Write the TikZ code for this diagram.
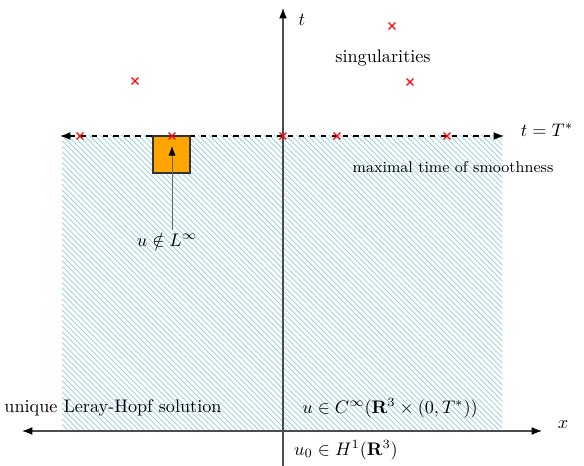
\documentclass[tikz,border=0pt]{standalone}
\usetikzlibrary{patterns,arrows.meta,shapes.misc}
\definecolor{hatch}{RGB}{150,205,220}
\definecolor{sqorange}{RGB}{255,165,0}
\tikzset{
  axis/.style={draw=black!70,line width=0.6pt},
  sing/.style={cross out,draw=red,minimum size=3.2pt,inner sep=0pt,line width=0.6pt},
  lbl/.style={inner sep=0pt,font=\normalsize}
}
\begin{document}
\begin{tikzpicture}[x=0.55pt,y=-0.55pt]
\useasboundingbox (0,0) rectangle (584,466);
% hatched region
\fill[pattern=north west lines,pattern color=hatch] (62,136) rectangle (502,431);
% axes
\coordinate (xl) at (22,431);
\coordinate (xr) at (542,431);
\coordinate (tb) at (283,466);
\coordinate (tt) at (283,8);
\draw[axis,{Latex[black]}-{Latex[black]}] (xl) -- (xr);
\draw[axis,-{Latex[black]}] (tb) -- (tt);
% dashed line t=T*
\coordinate (dl) at (60,136);
\coordinate (dr) at (504,136);
\draw[dashed,line width=0.6pt,{Latex}-{Latex}] (dl) -- (dr);
% orange square
\node[draw=black!80,fill=sqorange,minimum size=37*0.55pt,inner sep=0pt,line width=0.6pt] (sq) at (171.5,154.5) {};
% singularities
\node[sing] (s1) at (80,136) {};
\node[sing] (s2) at (172,136) {};
\node[sing] (s3) at (283,136) {};
\node[sing] (s4) at (337,136) {};
\node[sing] (s5) at (447,136) {};
\node[sing] (s6) at (135,81) {};
\node[sing] (s7) at (392,26) {};
\node[sing] (s8) at (410,82) {};
% arrow to square
\coordinate (a1) at (172,230);
\coordinate (a2) at (172,146);
\draw[draw=black!60,line width=0.5pt,-{Latex[black]}] (a1) -- (a2);
% labels
\node[lbl] (lt) at (302,20) {$t$};
\node[lbl] (lx) at (563,425) {$x$};
\node[lbl] (lsing) at (383,58) {singularities};
\node[lbl] (lT) at (547,130) {$t=T^*$};
\node[lbl,font=\fontsize{8.6}{10}\selectfont] (lmax) at (453,167) {maximal time of smoothness};
\node[lbl] (lL) at (167,240) {$u\notin L^\infty$};
\node[lbl] (lLH) at (113,408) {unique Leray-Hopf solution};
\node[lbl] (lC) at (390,408) {$u\in C^\infty(\mathbf{R}^3\times(0,T^*))$};
\node[lbl] (lH) at (346,450) {$u_0\in H^1(\mathbf{R}^3)$};
\end{tikzpicture}
\end{document}
